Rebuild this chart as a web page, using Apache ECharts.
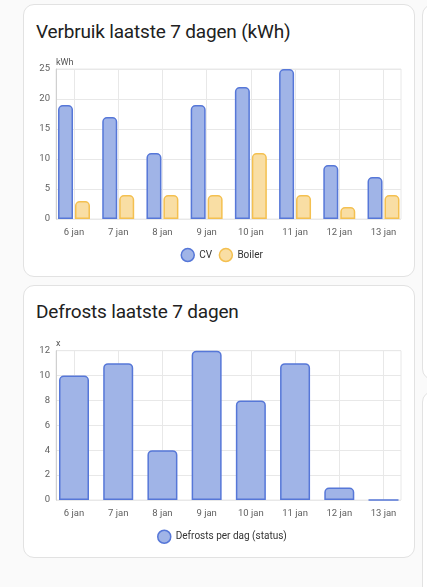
<!DOCTYPE html>
<html>
<head>
<meta charset="utf-8">
<script src="https://cdn.jsdelivr.net/npm/echarts@6/dist/echarts.min.js"></script>
<style>
html, body {margin:0; padding:0; background:#fafafa; width:427px; height:587px; overflow:hidden; font-family:Roboto, sans-serif;}
.card {position:absolute; background:#fff; border:1px solid #e2e2e2; border-radius:11px; box-sizing:border-box;}
.title {position:absolute; left:36px; font-size:19px; letter-spacing:-0.17px; line-height:20px; color:#212121; white-space:nowrap;}
.chart {position:absolute; left:0; width:427px;}
</style>
</head>
<body>
<div class="card" style="left:23px;top:4px;width:392px;height:273px"></div>
<div class="card" style="left:23px;top:285px;width:392px;height:273px"></div>
<div class="card" style="left:422px;top:4px;width:60px;height:376px"></div>
<div class="card" style="left:422px;top:391px;width:60px;height:300px"></div>
<div class="title" style="top:22px">Verbruik laatste 7 dagen (kWh)</div>
<div class="title" style="top:302px">Defrosts laatste 7 dagen</div>
<div id="c1" class="chart" style="top:0;height:280px"></div>
<div id="c2" class="chart" style="top:280px;height:300px"></div>
<script>
var days = ['6 jan', '7 jan', '8 jan', '9 jan', '10 jan', '11 jan', '12 jan', '13 jan'];
var cv = [19, 17, 11, 19, 22, 25, 9, 7];
var boiler = [3, 4, 4, 4, 11, 4, 2, 4];
var defrosts = [10, 11, 4, 12, 8, 11, 1, 0];

var blue = {color: '#a0b4e7', borderColor: '#5677d8', borderWidth: 1.5, borderRadius: [4, 4, 0, 0]};
var yellow = {color: '#f9dea4', borderColor: '#f4c050', borderWidth: 1.5, borderRadius: [4, 4, 0, 0]};
var gridColor = '#e8e8e8';
var labelColor = '#616161';

// two grids: the outer one holds the frame and y labels, the inner one the bars
function axes(top, height, max, step, unit) {
    return {
        textStyle: {fontFamily: 'Roboto'},
        grid: [
            {left: 56, right: 26, top: top, height: height, show: true, borderColor: gridColor, borderWidth: 1},
            {left: 74, right: 43.5, top: top, height: height}
        ],
        xAxis: [
            {gridIndex: 0, type: 'value', min: 0, max: 1, show: false},
            {gridIndex: 1, type: 'category', data: days, boundaryGap: false,
             axisLine: {show: false}, axisTick: {show: false},
             splitLine: {show: true, lineStyle: {color: gridColor}},
             axisLabel: {interval: 0, margin: 9, fontSize: 9.5, color: labelColor}}
        ],
        yAxis: [
            {gridIndex: 0, type: 'value', min: 0, max: max, interval: step,
             name: unit, nameLocation: 'end', nameGap: 2,
             nameTextStyle: {align: 'left', fontSize: 9, color: '#555'},
             axisLine: {show: true, lineStyle: {color: '#d0d0d0'}}, axisTick: {show: false},
             axisLabel: {margin: 6, fontSize: 9.5, color: labelColor},
             splitLine: {lineStyle: {color: gridColor}}},
            {gridIndex: 1, type: 'value', min: 0, max: max, show: false}
        ]
    };
}

var chart1 = echarts.init(document.getElementById('c1'));
var opt1 = axes(69, 150, 25, 5, 'kWh');
opt1.legend = {
    left: 180.5, top: 247.8, padding: 0, icon: 'circle', itemWidth: 13, itemHeight: 13, itemGap: 6.5,
    textStyle: {fontSize: 10, color: '#333'},
    data: [{name: 'CV', itemStyle: blue}, {name: 'Boiler', itemStyle: yellow}]
};
opt1.series = [
    {type: 'bar', name: 'CV', xAxisIndex: 1, yAxisIndex: 1, data: cv, barWidth: 15, barGap: '13%', clip: false, itemStyle: blue},
    {type: 'bar', name: 'Boiler', xAxisIndex: 1, yAxisIndex: 1, data: boiler, barWidth: 15, barGap: '13%', clip: false, itemStyle: yellow}
];
chart1.setOption(opt1);

var chart2 = echarts.init(document.getElementById('c2'));
var opt2 = axes(70.7, 149.3, 12, 2, 'x');
opt2.legend = {
    left: 157, top: 249.5, padding: 0, icon: 'circle', itemWidth: 13, itemHeight: 13,
    textStyle: {fontSize: 10, color: '#333'},
    data: [{name: 'Defrosts per dag (status)', itemStyle: blue}]
};
opt2.series = [
    {type: 'bar', name: 'Defrosts per dag (status)', xAxisIndex: 1, yAxisIndex: 1, data: defrosts, barWidth: 30, clip: false, itemStyle: blue}
];
chart2.setOption(opt2);
</script>
</body>
</html>
